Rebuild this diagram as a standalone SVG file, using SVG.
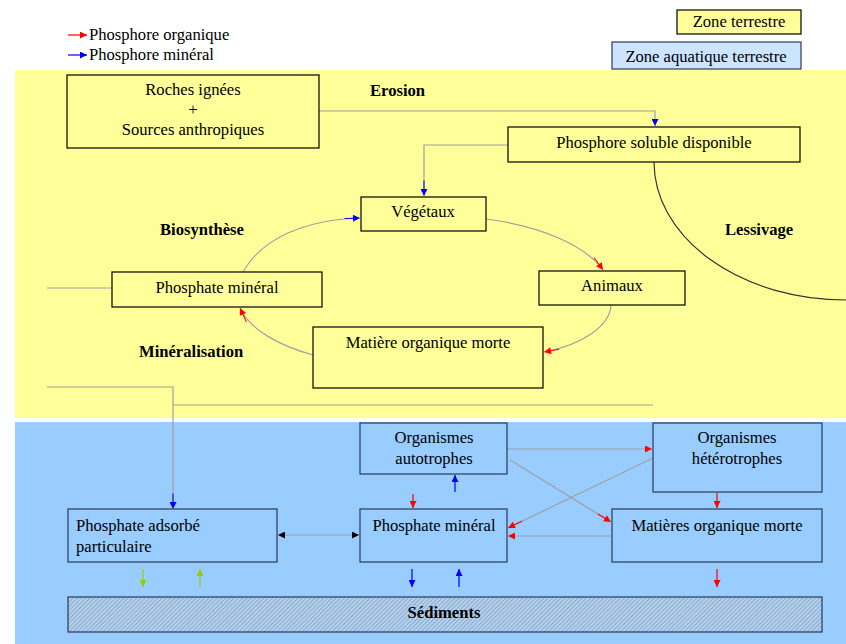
<svg xmlns="http://www.w3.org/2000/svg" width="846" height="644" viewBox="0 0 846 644">
  <defs>
    <style>
      text { font-family: "Liberation Serif", "Times New Roman", Times, serif; font-size: 16.6px; fill: #000; }
      .lbl { font-weight: bold; }
      .mid { text-anchor: middle; }
      .bt { fill: #ffff99; stroke: #000; stroke-width: 1.2; }
      .ba { fill: #99ccff; stroke: #2b3a55; stroke-width: 1.2; }
      .con { fill: none; stroke: #a0a0a0; stroke-width: 1.2; }
    </style>
    <!-- plain arrowheads -->
    <marker id="ar-red" viewBox="0 0 10 10" refX="10" refY="5" markerUnits="userSpaceOnUse" markerWidth="8" markerHeight="7" orient="auto">
      <path d="M0,0 L10,5 L0,10 z" fill="#ff0000"/>
    </marker>
    <marker id="ar-blue" viewBox="0 0 10 10" refX="10" refY="5" markerUnits="userSpaceOnUse" markerWidth="8" markerHeight="7" orient="auto">
      <path d="M0,0 L10,5 L0,10 z" fill="#0000ff"/>
    </marker>
    <marker id="ar-green" viewBox="0 0 10 10" refX="10" refY="5" markerUnits="userSpaceOnUse" markerWidth="8" markerHeight="7" orient="auto">
      <path d="M0,0 L10,5 L0,10 z" fill="#99cc00"/>
    </marker>
    <marker id="ar-black" viewBox="0 0 10 10" refX="10" refY="5" markerUnits="userSpaceOnUse" markerWidth="8" markerHeight="7" orient="auto-start-reverse">
      <path d="M0,0 L10,5 L0,10 z" fill="#000"/>
    </marker>
    <!-- arrowheads with a short coloured shaft, for grey flow lines -->
    <marker id="tl-red" viewBox="-12 0 22 10" refX="10" refY="5" markerUnits="userSpaceOnUse" markerWidth="17.6" markerHeight="7" orient="auto">
      <path d="M-12,5 L2,5" stroke="#ff0000" stroke-width="1.5"/>
      <path d="M0,0 L10,5 L0,10 z" fill="#ff0000"/>
    </marker>
    <marker id="tl-blue" viewBox="-12 0 22 10" refX="10" refY="5" markerUnits="userSpaceOnUse" markerWidth="17.6" markerHeight="7" orient="auto">
      <path d="M-12,5 L2,5" stroke="#0000ff" stroke-width="1.5"/>
      <path d="M0,0 L10,5 L0,10 z" fill="#0000ff"/>
    </marker>
    <pattern id="hatch" patternUnits="userSpaceOnUse" width="3" height="3" patternTransform="rotate(45)">
      <rect width="3" height="3" fill="#b4d2f0"/>
      <line x1="0" y1="0" x2="0" y2="3" stroke="#5d7596" stroke-width="0.9"/>
    </pattern>
  </defs>

  <!-- background zones -->
  <rect x="0" y="0" width="846" height="644" fill="#ffffff"/>
  <rect id="zone-terrestre" x="15" y="70" width="831" height="348" fill="#ffff99"/>
  <rect id="zone-aquatique" x="15" y="422" width="831" height="222" fill="#99ccff"/>

  <!-- legend -->
  <g id="legend">
    <line x1="68" y1="35" x2="87" y2="35" stroke="#ff0000" stroke-width="1.2" marker-end="url(#ar-red)"/>
    <text x="89" y="40">Phosphore organique</text>
    <line x1="68" y1="55" x2="87" y2="55" stroke="#0000ff" stroke-width="1.2" marker-end="url(#ar-blue)"/>
    <text x="89" y="60">Phosphore minéral</text>
    <rect class="bt" x="677" y="10" width="124" height="24"/>
    <text x="739" y="27" class="mid">Zone terrestre</text>
    <rect x="612" y="42" width="189" height="27" fill="#cce4ff" stroke="#2b3a55" stroke-width="1.2"/>
    <text x="706" y="62" class="mid">Zone aquatique terrestre</text>
  </g>

  <!-- process labels -->
  <g id="labels">
    <text x="370" y="96" class="lbl">Erosion</text>
    <text x="160" y="235" class="lbl">Biosynthèse</text>
    <text x="725" y="235" class="lbl">Lessivage</text>
    <text x="139" y="357" class="lbl">Minéralisation</text>
  </g>

  <!-- connectors -->
  <g id="connectors">
    <!-- terrestrial zone -->
    <polyline class="con" points="319,111 655,111 655,126" marker-end="url(#ar-blue)"/>
    <polyline class="con" points="508,145 424,145 424,196" marker-end="url(#tl-blue)"/>
    <path d="M654,162 A192,138 0 0 0 846,300" fill="none" stroke="#333" stroke-width="1.2"/>
    <path class="con" d="M243,272 C262,238 305,220 360,218" marker-end="url(#tl-blue)"/>
    <path class="con" d="M486,219 C540,226 585,245 603,270" marker-end="url(#tl-red)"/>
    <path class="con" d="M611,305 C610,326 582,345 544,352" marker-end="url(#tl-red)"/>
    <path class="con" d="M313,355 C280,346 250,330 240,308" marker-end="url(#tl-red)"/>
    <line class="con" x1="47" y1="288" x2="112" y2="288"/>
    <polyline class="con" points="47,387 173,387 173,509" marker-end="url(#tl-blue)"/>
    <line class="con" x1="173" y1="405" x2="653" y2="405"/>

    <!-- aquatic zone -->
    <line class="con" x1="278" y1="535" x2="359" y2="535" marker-start="url(#ar-black)" marker-end="url(#ar-black)"/>
    <line x1="413" y1="494" x2="413" y2="508" stroke="#ff0000" stroke-width="1.2" marker-end="url(#ar-red)"/>
    <line x1="455" y1="492" x2="455" y2="475" stroke="#0000ff" stroke-width="1.2" marker-end="url(#ar-blue)"/>
    <line class="con" x1="507" y1="449" x2="652" y2="449" marker-end="url(#ar-red)"/>
    <line class="con" x1="510" y1="460" x2="611" y2="522" marker-end="url(#tl-red)"/>
    <line class="con" x1="653" y1="458" x2="508" y2="528" marker-end="url(#tl-red)"/>
    <line class="con" x1="612" y1="536" x2="508" y2="536" marker-end="url(#ar-red)"/>
    <line x1="717" y1="493" x2="717" y2="508" stroke="#ff0000" stroke-width="1.2" marker-end="url(#ar-red)"/>
    <line x1="143" y1="569" x2="143" y2="587" stroke="#99cc00" stroke-width="1.2" marker-end="url(#ar-green)"/>
    <line x1="200" y1="587" x2="200" y2="569" stroke="#99cc00" stroke-width="1.2" marker-end="url(#ar-green)"/>
    <line x1="412" y1="569" x2="412" y2="587" stroke="#0000ff" stroke-width="1.2" marker-end="url(#ar-blue)"/>
    <line x1="459" y1="587" x2="459" y2="569" stroke="#0000ff" stroke-width="1.2" marker-end="url(#ar-blue)"/>
    <line x1="717" y1="569" x2="717" y2="587" stroke="#ff0000" stroke-width="1.2" marker-end="url(#ar-red)"/>
  </g>

  <!-- terrestrial nodes -->
  <g id="roches">
    <rect class="bt" x="67" y="75" width="252" height="73"/>
    <text x="193" y="95" class="mid">Roches ignées</text>
    <text x="193" y="115" class="mid">+</text>
    <text x="193" y="135" class="mid">Sources anthropiques</text>
  </g>
  <g id="phosphore-soluble">
    <rect class="bt" x="508" y="127" width="292" height="35"/>
    <text x="654" y="148" class="mid">Phosphore soluble disponible</text>
  </g>
  <g id="vegetaux">
    <rect class="bt" x="361" y="197" width="125" height="34"/>
    <text x="423" y="217" class="mid">Végétaux</text>
  </g>
  <g id="phosphate-mineral-terre">
    <rect class="bt" x="112" y="272" width="210" height="35"/>
    <text x="217" y="293" class="mid">Phosphate minéral</text>
  </g>
  <g id="animaux">
    <rect class="bt" x="539" y="271" width="146" height="34"/>
    <text x="612" y="291" class="mid">Animaux</text>
  </g>
  <g id="matiere-morte-terre">
    <rect class="bt" x="313" y="327" width="230" height="61"/>
    <text x="428" y="348" class="mid">Matière organique morte</text>
  </g>

  <!-- aquatic nodes -->
  <g id="autotrophes">
    <rect class="ba" x="360" y="423" width="147" height="51"/>
    <text x="434" y="443" class="mid">Organismes</text>
    <text x="434" y="464" class="mid">autotrophes</text>
  </g>
  <g id="heterotrophes">
    <rect class="ba" x="653" y="423" width="169" height="69"/>
    <text x="737" y="443" class="mid">Organismes</text>
    <text x="737" y="464" class="mid">hétérotrophes</text>
  </g>
  <g id="phosphate-adsorbe">
    <rect class="ba" x="68" y="509" width="209" height="53"/>
    <text x="76" y="531">Phosphate adsorbé</text>
    <text x="76" y="552">particulaire</text>
  </g>
  <g id="phosphate-mineral-eau">
    <rect class="ba" x="360" y="509" width="147" height="53"/>
    <text x="434" y="531" class="mid">Phosphate minéral</text>
  </g>
  <g id="matieres-morte-eau">
    <rect class="ba" x="612" y="509" width="210" height="53"/>
    <text x="717" y="531" class="mid">Matières organique morte</text>
  </g>
  <g id="sediments">
    <rect x="68" y="597" width="754" height="35" fill="url(#hatch)" stroke="#2b3a55" stroke-width="1.2"/>
    <text x="444" y="618" class="mid lbl">Sédiments</text>
  </g>
</svg>
